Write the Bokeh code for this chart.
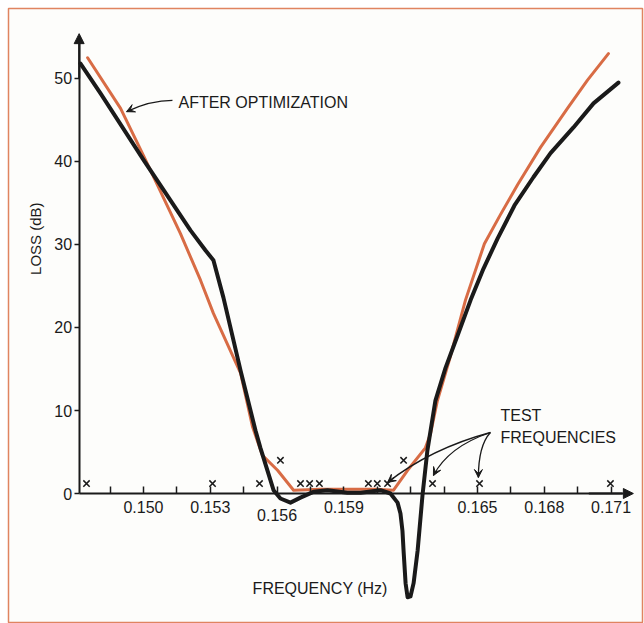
from bokeh.plotting import figure
from bokeh.models import LinearAxis, FixedTicker, Range1d, Arrow, NormalHead, VeeHead
from bokeh.core.properties import value
from bokeh.embed import file_html
from bokeh.resources import INLINE
import math

# ---- data ----
freq_after = [0.14717, 0.14807, 0.15000, 0.15211, 0.15278, 0.15314, 0.15359, 0.15436,
              0.15503, 0.15525, 0.15584, 0.15615, 0.15660, 0.15705, 0.15763, 0.15826,
              0.15916, 0.15975, 0.16064, 0.16109, 0.16141, 0.16154, 0.16163, 0.16168,
              0.16177, 0.16186, 0.16199, 0.16213, 0.16231, 0.16253, 0.16275, 0.16311,
              0.16356, 0.16410, 0.16469, 0.16527, 0.16590, 0.16666, 0.16751, 0.16828,
              0.16931, 0.17021, 0.17133]
loss_after = [51.8, 48.2, 40.2, 31.7, 29.3, 28.1, 23.6, 14.8,
              7.6, 5.5, 0.4, -0.6, -1.1, -0.5, 0.2, 0.4,
              0.1, 0.1, 0.4, 0.0, -1.1, -2.4, -4.5, -6.9,
              -10.8, -12.5, -12.4, -10.8, -6.9, -0.2, 5.2, 11.2,
              15.1, 19.0, 23.3, 27.1, 30.7, 34.7, 38.1, 41.0,
              44.1, 47.0, 49.5]

freq_before = [0.14749, 0.14897, 0.15000, 0.15166, 0.15256, 0.15314, 0.15436, 0.15490,
               0.15534, 0.15602, 0.15674, 0.15795, 0.15930, 0.16042, 0.16123, 0.16186,
               0.16266, 0.16289, 0.16320, 0.16379, 0.16446, 0.16531, 0.16603, 0.16680,
               0.16783, 0.16904, 0.16994, 0.17088]
loss_before = [52.5, 46.4, 40.7, 31.3, 25.7, 21.7, 14.5, 8.0,
               4.6, 2.8, 0.4, 0.5, 0.5, 0.5, 0.4, 2.8,
               5.5, 7.2, 11.2, 16.6, 23.3, 30.1, 33.6, 37.2,
               41.7, 46.4, 49.8, 53.0]

test_freq = [0.14744, 0.15310, 0.15521, 0.15615, 0.15705, 0.15746, 0.15790,
             0.16010, 0.16050, 0.16096, 0.16168, 0.16298, 0.16509, 0.17097]
test_loss = [1.2, 1.2, 1.2, 4.0, 1.2, 1.2, 1.2,
             1.2, 1.2, 1.2, 4.0, 1.2, 1.2, 1.2]

x_ticks = [0.1485, 0.150, 0.1515, 0.153, 0.1545, 0.156, 0.1575, 0.159,
           0.1605, 0.162, 0.1635, 0.165, 0.1665, 0.168, 0.1695, 0.171]
x_tick_labels = ["", "0.150", "", "0.153", "", "", "", "0.159",
                 "", "", "", "0.165", "", "0.168", "", "0.171"]
y_ticks = [0, 10, 20, 30, 40, 50]

FONT = "Liberation Sans"
INK = "#1a1a1a"
RED = "#D86C45"

x_origin = 0.14711

p = figure(width=644, height=623, output_backend="svg", toolbar_location=None,
           x_range=Range1d(0.143937, 0.17241), y_range=Range1d(-15.66, 58.43),
           x_axis_type=None, y_axis_type=None,
           min_border_left=8, min_border_top=8, min_border_right=2, min_border_bottom=0,
           background_fill_color="#FDFDFB", border_fill_color="#FFFFFF",
           outline_line_color="#E08460", outline_line_width=1.5)

xaxis = LinearAxis(ticker=FixedTicker(ticks=x_ticks, minor_ticks=[]), fixed_location=0,
                   bounds=(x_origin, 0.1715),
                   major_label_overrides={t: l for t, l in zip(x_ticks, x_tick_labels)},
                   major_tick_in=7, major_tick_out=0, major_tick_line_width=1.5,
                   major_tick_line_color=INK, axis_line_width=2, axis_line_color=INK,
                   minor_tick_line_color=None, major_label_standoff=7,
                   major_label_text_font=FONT, major_label_text_font_size="16px",
                   major_label_text_color=INK)
p.add_layout(xaxis, "below")

yaxis = LinearAxis(ticker=FixedTicker(ticks=y_ticks, minor_ticks=[]), fixed_location=x_origin,
                   bounds=(0, 55.0),
                   major_tick_in=0, major_tick_out=5, major_tick_line_width=1.5,
                   major_tick_line_color=INK, axis_line_width=2, axis_line_color=INK,
                   minor_tick_line_color=None, major_label_standoff=2,
                   major_label_text_font=FONT, major_label_text_font_size="16px",
                   major_label_text_color=INK)
p.add_layout(yaxis, "left")

# axis arrow heads
p.add_layout(Arrow(end=NormalHead(size=10, fill_color=INK, line_color=INK),
                   x_start=x_origin, y_start=50, x_end=x_origin, y_end=55.4,
                   line_width=2, line_color=INK))
p.add_layout(Arrow(end=NormalHead(size=10, fill_color=INK, line_color=INK),
                   x_start=0.1700, y_start=0, x_end=0.17200, y_end=0,
                   line_width=2, line_color=INK))

# curves
p.line(freq_before, loss_before, line_width=3, line_color=RED, line_join="round", line_cap="round")
p.line(freq_after, loss_after, line_width=4, line_color=INK, line_join="round", line_cap="round")

# test frequency markers
p.scatter(test_freq, test_loss, marker="x", size=9, line_width=1.5, line_color=INK)

def txt(x, y, s, align="left", angle=0.0, size="16px"):
    p.text(x=[x], y=[y], text=[s], text_font=value(FONT), text_font_size=size,
           text_align=align, text_baseline="middle", text_color=INK, angle=angle)

txt(0.15157, 47.1, "AFTER OPTIMIZATION")
txt(0.16603, 9.4, "TEST")
txt(0.16603, 6.75, "FREQUENCIES")
txt(0.15490, -11.45, "FREQUENCY (Hz)")
txt(0.156, -2.55, "0.156", align="center")
txt(0.14515, 30.7, "LOSS (dB)", align="center", angle=math.pi / 2, size="15px")

def curved_arrow(s, c, e):
    p.quadratic(x0=[s[0]], y0=[s[1]], x1=[e[0]], y1=[e[1]], cx=[c[0]], cy=[c[1]],
                line_color=INK, line_width=1.3)
    b = (e[0] + 0.15 * (c[0] - e[0]), e[1] + 0.15 * (c[1] - e[1]))
    p.add_layout(Arrow(end=VeeHead(size=8, fill_color=INK, line_color=INK, line_width=1),
                       x_start=b[0], y_start=b[1], x_end=e[0], y_end=e[1],
                       line_width=1.3, line_color=INK))

curved_arrow((0.15130, 47.35), (0.15031, 47.35), (0.14924, 46.0))
origin = (0.16558, 7.35)
curved_arrow(origin, (0.16289, 5.4), (0.16096, 1.33))
curved_arrow(origin, (0.16370, 5.66), (0.16302, 2.17))
curved_arrow(origin, (0.16504, 5.78), (0.16504, 1.93))

open("out.html", "w").write(file_html(p, INLINE))
